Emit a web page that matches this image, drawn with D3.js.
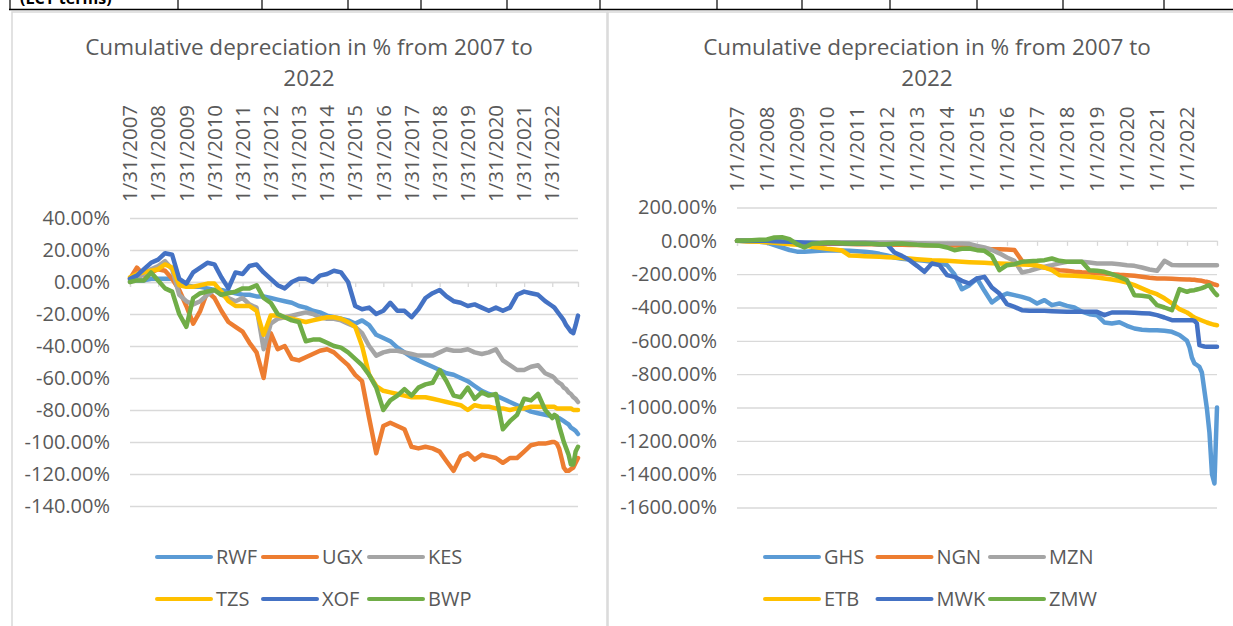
<!DOCTYPE html>
<html>
<head>
<meta charset="utf-8">
<script src="https://cdn.jsdelivr.net/npm/d3@7"></script>
<style>
  body { margin: 0; background: #fff; }
  text { font-family: "Open Sans", sans-serif; fill: #595959; }
</style>
</head>
<body>
<div id="page"></div>
<script>
// ---- data: quarterly points to end 2021, monthly through 2022 ----
var leftMonths  = d3.range(0, 180, 3).concat(d3.range(180, 192));   // offsets from Jan 2007
var rightMonths = d3.range(0, 180, 3).concat(d3.range(180, 193));

var leftTicks  = ["1/31/2007","1/31/2008","1/31/2009","1/31/2010","1/31/2011","1/31/2012","1/31/2013","1/31/2014",
                  "1/31/2015","1/31/2016","1/31/2017","1/31/2018","1/31/2019","1/31/2020","1/31/2021","1/31/2022"];
var rightTicks = ["1/1/2007","1/1/2008","1/1/2009","1/1/2010","1/1/2011","1/1/2012","1/1/2013","1/1/2014",
                  "1/1/2015","1/1/2016","1/1/2017","1/1/2018","1/1/2019","1/1/2020","1/1/2021","1/1/2022"];

var leftYTicks  = [40, 20, 0, -20, -40, -60, -80, -100, -120, -140];
var rightYTicks = [200, 0, -200, -400, -600, -800, -1000, -1200, -1400, -1600];

var leftNames  = ["RWF", "UGX", "KES", "TZS", "XOF", "BWP"];
var rightNames = ["GHS", "NGN", "MZN", "ETB", "MWK", "ZMW"];
var colors = ["#5B9BD5", "#ED7D31", "#A5A5A5", "#FFC000", "#4472C4", "#70AD47"];

// left chart, % values
var RWF = [1,1,1,2, 2,2,2,0, -2,-3,-3,-4, -5,-5,-6,-7, -8,-8,-9,-9, -10,-11,-12,-13, -15,-16,-18,-19,
           -21,-22,-23,-24, -26,-24,-27,-33, -35,-37,-41,-44, -47,-49,-51,-53, -55,-57,-58,-60,
           -62,-65,-68,-70, -71,-73,-75,-77, -79,-81,-82,-83,
           -84,-84,-85,-85,-86,-87,-88,-89,-91,-92,-93,-95];
var UGX = [2,9,4,6, 8,7,2,-5, -15,-26,-18,-6, -10,-18,-25,-28, -31,-38,-44,-60, -32,-42,-40,-48,
           -49,-47,-45,-43, -42,-44,-48,-52, -58,-62,-85,-107, -90,-88,-90,-92, -103,-104,-103,-104,
           -106,-112,-118,-109, -107,-111,-108,-109, -110,-113,-110,-110, -106,-102,-101,-101,
           -100,-100,-101,-104,-110,-116,-118,-118,-117,-116,-113,-110];
var KES = [0,2,5,8, 10,13,8,-8, -12,-14,-12,-8, -5,-8,-10,-12, -10,-14,-16,-42, -26,-23,-22,-21,
           -20,-19,-20,-22, -23,-23,-24,-26, -28,-32,-40,-46, -44,-43,-43,-44, -45,-46,-46,-46,
           -44,-42,-43,-43, -42,-44,-45,-44, -42,-49,-52,-55, -55,-53,-52,-57,
           -59,-60,-62,-63,-64,-66,-67,-69,-70,-72,-73,-75];
var TZS = [3,5,6,7, 8,11,9,-2, -3,-3,-2,-1, -1,-6,-12,-15, -15,-15,-18,-33, -21,-21,-22,-23,
           -24,-25,-24,-23, -22,-22,-23,-25, -28,-40,-58,-65, -68,-69,-70,-71, -72,-72,-72,-73,
           -74,-75,-76,-77, -80,-77,-78,-78, -79,-79,-80,-79, -79,-78,-78,-78,
           -78,-78,-79,-79,-79,-79,-79,-79,-79,-80,-80,-80];
var XOF = [2,4,8,12, 14,18,17,2, -1,6,9,12, 11,3,-4,6, 5,10,11,6, 2,-2,-4,0,
           2,2,0,4, 5,7,6,0, -15,-17,-16,-20, -18,-13,-18,-18, -22,-17,-10,-7,
           -5,-9,-12,-13, -15,-14,-16,-18, -16,-18,-16,-8, -6,-7,-8,-12,
           -15,-16,-18,-20,-22,-24,-27,-29,-31,-32,-27,-21];
var BWP = [0,1,1,6, 1,-4,-6,-20, -28,-10,-7,-6, -5,-8,-7,-6, -4,-4,-2,-10, -13,-20,-22,-24,
           -25,-37,-36,-36, -38,-40,-41,-44, -48,-52,-58,-66, -80,-74,-71,-67, -71,-66,-64,-63,
           -55,-62,-71,-72, -66,-73,-69,-71, -70,-92,-87,-83, -73,-74,-70,-80,
           -85,-83,-84,-90,-95,-100,-104,-108,-114,-114,-106,-103];

// right chart, % values
var GHS = [0,-2,-4,-6, -10,-25,-40,-55, -65,-65,-62,-60, -58,-57,-58,-60, -62,-65,-70,-78,
           -88,-100,-108,-112, -115,-120,-126,-135, -146,-200,-290,-266, -226,-300,-370,-336,
           -316,-326,-336,-350, -376,-356,-386,-376, -390,-400,-425,-440, -446,-490,-496,-488,
           -510,-526,-534,-536, -536,-540,-546,-565,
           -600,-640,-700,-735,-745,-756,-790,-900,-1010,-1150,-1400,-1456,-1000];
var NGN = [0,0,-2,-4, -5,-6,-8,-10, -15,-18,-18,-17, -17,-18,-18,-19, -20,-20,-21,-22,
           -22,-23,-24,-25, -25,-26,-26,-27, -27,-28,-28,-30, -40,-48,-50,-50,
           -52,-55,-120,-140, -150,-160,-170,-176, -180,-185,-188,-190, -194,-196,-200,-204,
           -206,-210,-216,-222, -226,-226,-228,-230,
           -232,-232,-234,-234,-236,-238,-240,-244,-246,-250,-256,-262,-266];
var MZN = [0,0,-2,-3, -4,-5,-6,-8, -12,-14,-12,-10, -8,-8,-8,-8, -8,-8,-10,-10,
           -10,-10,-12,-12, -14,-15,-16,-16, -16,-16,-16,-18, -30,-40,-55,-75,
           -100,-120,-190,-180, -166,-155,-146,-135, -126,-126,-126,-130, -136,-136,-136,-140,
           -146,-150,-160,-172, -180,-120,-145,-146,
           -146,-146,-146,-146,-146,-146,-146,-146,-146,-146,-146,-146,-146];
var ETB = [0,-2,-4,-6, -8,-12,-16,-20, -24,-28,-36,-42, -48,-52,-58,-88, -90,-92,-94,-96,
           -98,-100,-103,-106, -110,-113,-116,-118, -120,-122,-125,-128, -130,-132,-134,-136,
           -138,-140,-142,-144, -148,-160,-176,-206, -208,-210,-212,-216, -220,-226,-232,-240,
           -250,-266,-285,-305, -320,-345,-375,-410,
           -430,-440,-450,-460,-466,-472,-478,-484,-490,-495,-500,-504,-506];
var MWK = [0,0,0,0, 0,-2,-4,-6, -8,-10,-12,-14, -14,-14,-14,-16, -16,-18,-18,-20,
           -20,-70,-90,-116, -150,-186,-136,-146, -206,-216,-240,-256, -226,-216,-280,-316,
           -380,-396,-416,-420, -420,-420,-422,-424, -426,-426,-426,-426, -426,-446,-430,-430,
           -430,-432,-434,-436, -446,-460,-476,-476,
           -476,-476,-476,-480,-496,-626,-630,-634,-636,-636,-636,-636,-636];
var ZMW = [0,2,4,6, 8,20,22,10, -20,-40,-18,-14, -12,-12,-14,-16, -16,-16,-18,-20,
           -20,-18,-16,-20, -24,-26,-28,-30, -40,-56,-48,-46, -56,-60,-90,-176,
           -146,-140,-126,-122, -120,-116,-106,-120, -126,-126,-126,-176, -180,-186,-200,-216,
           -236,-326,-330,-336, -386,-400,-416,-290,
           -306,-300,-298,-296,-292,-288,-284,-278,-270,-266,-290,-310,-326];

var W = 1233, H = 626;

var svg = d3.select("#page")
    .append("svg")
    .attr("width", W)
    .attr("height", H);

// ---- table row peeking in at the top ----
var cellEdges = [10, 178, 262, 348, 421, 507, 600, 717, 802, 890, 977, 1063, 1164];
svg.append("line")
    .attr("x1", 9).attr("x2", W).attr("y1", 9.5).attr("y2", 9.5)
    .attr("stroke", "#000").attr("stroke-width", 1.5);
svg.selectAll(".cell")
    .data(cellEdges)
    .enter()
    .append("line")
    .attr("x1", function(d) { return d; }).attr("x2", function(d) { return d; })
    .attr("y1", 0).attr("y2", 10)
    .attr("stroke", "#000").attr("stroke-width", 1.2);
svg.append("text")
    .attr("x", 20).attr("y", 4)
    .style("font-weight", "bold").style("font-size", "16px").style("fill", "#000")
    .text("(LCY terms)");

// chart frames
svg.append("rect")
    .attr("x", 12).attr("y", 12).attr("width", 595).attr("height", 700)
    .attr("fill", "none").attr("stroke", "#d9d9d9").attr("stroke-width", 1.5);
svg.append("rect")
    .attr("x", 608).attr("y", 12).attr("width", 700).attr("height", 700)
    .attr("fill", "none").attr("stroke", "#d9d9d9").attr("stroke-width", 1.5);

function drawChart(c) {
    var g = svg.append("g");

    var x = d3.scaleTime().domain(c.xDomain).range([c.x0, c.x1]);
    var y = d3.scaleLinear().domain([c.yTicks[c.yTicks.length - 1], c.yTicks[0]]).range([c.yBottom, c.yTop]);

    // title
    var title = g.append("text")
        .attr("text-anchor", "middle")
        .style("font-size", "22.5px");
    title.append("tspan").attr("x", c.titleX).attr("y", 55).text("Cumulative depreciation in % from 2007 to");
    title.append("tspan").attr("x", c.titleX).attr("y", 86).text("2022");

    // y axis with gridlines
    var yAxis = d3.axisLeft(y)
        .tickValues(c.yTicks)
        .tickSize(-(c.x1 - c.x0))
        .tickPadding(20)
        .tickFormat(function(d) { return d.toFixed(2) + "%"; });
    var ya = g.append("g")
        .attr("transform", "translate(" + c.x0 + ",0)")
        .call(yAxis);
    ya.select(".domain").remove();
    ya.selectAll("line").attr("stroke", "#d9d9d9").attr("stroke-width", 1.3);
    ya.selectAll("text").style("font-size", "20px").style("fill", "#595959").style("font-family", "Open Sans");

    // category axis on the zero line, labels on top
    var xAxis = d3.axisBottom(x)
        .tickValues(c.tickDates)
        .tickSize(5)
        .tickFormat("");
    var xa = g.append("g")
        .attr("transform", "translate(0," + y(0) + ")")
        .call(xAxis);
    xa.select(".domain").attr("stroke", "#d9d9d9").attr("stroke-width", 1.3);
    xa.selectAll("line").attr("stroke", "#d9d9d9").attr("stroke-width", 1.3);

    g.selectAll(".xlab")
        .data(c.tickDates)
        .enter()
        .append("text")
        .attr("transform", function(d) { return "translate(" + x(d) + "," + c.labelBase + ") rotate(-90)"; })
        .attr("dy", "0.35em")
        .style("font-size", "20.5px")
        .text(function(d, i) { return c.tickLabels[i]; });

    // series
    var line = d3.line()
        .x(function(d) { return x(d[0]); })
        .y(function(d) { return y(d[1]); });

    c.series.forEach(function(s, i) {
        var pts = s.map(function(v, j) { return [c.dates[j], v]; });
        g.append("path")
            .datum(pts)
            .attr("d", line)
            .attr("fill", "none")
            .attr("stroke", colors[i])
            .attr("stroke-width", 4.5)
            .attr("stroke-linejoin", "round")
            .attr("stroke-linecap", "round");
    });

    // legend, 3 per row
    var leg = g.selectAll(".leg")
        .data(c.names)
        .enter()
        .append("g")
        .attr("transform", function(d, i) {
            return "translate(" + (c.legX + (i % 3) * c.legStep) + "," + (i < 3 ? 557 : 599) + ")";
        });
    leg.append("line")
        .attr("x1", 0).attr("x2", 54).attr("y1", 0).attr("y2", 0)
        .attr("stroke", function(d, i) { return colors[i]; })
        .attr("stroke-width", 4)
        .attr("stroke-linecap", "round");
    leg.append("text")
        .attr("x", 59).attr("dy", "0.35em")
        .style("font-size", "20px")
        .text(function(d) { return d; });
}

drawChart({
    x0: 130, x1: 578, yTop: 218, yBottom: 506,
    xDomain: [new Date(2007, 0, 31), new Date(2022, 11, 31)],
    dates: leftMonths.map(function(m) { return new Date(2007, m + 1, 0); }),
    tickDates: d3.range(16).map(function(k) { return new Date(2007 + k, 0, 31); }),
    tickLabels: leftTicks, labelBase: 202,
    yTicks: leftYTicks,
    titleX: 309,
    series: [RWF, UGX, KES, TZS, XOF, BWP],
    names: leftNames, legX: 157, legStep: 106
});

drawChart({
    x0: 737, x1: 1217, yTop: 207.5, yBottom: 507.5,
    xDomain: [new Date(2007, 0, 1), new Date(2023, 0, 1)],
    dates: rightMonths.map(function(m) { return new Date(2007, m, 1); }),
    tickDates: d3.range(16).map(function(k) { return new Date(2007 + k, 0, 1); }),
    tickLabels: rightTicks, labelBase: 192,
    yTicks: rightYTicks,
    titleX: 927,
    series: [GHS, NGN, MZN, ETB, MWK, ZMW],
    names: rightNames, legX: 765, legStep: 112.5
});
</script>
</body>
</html>
